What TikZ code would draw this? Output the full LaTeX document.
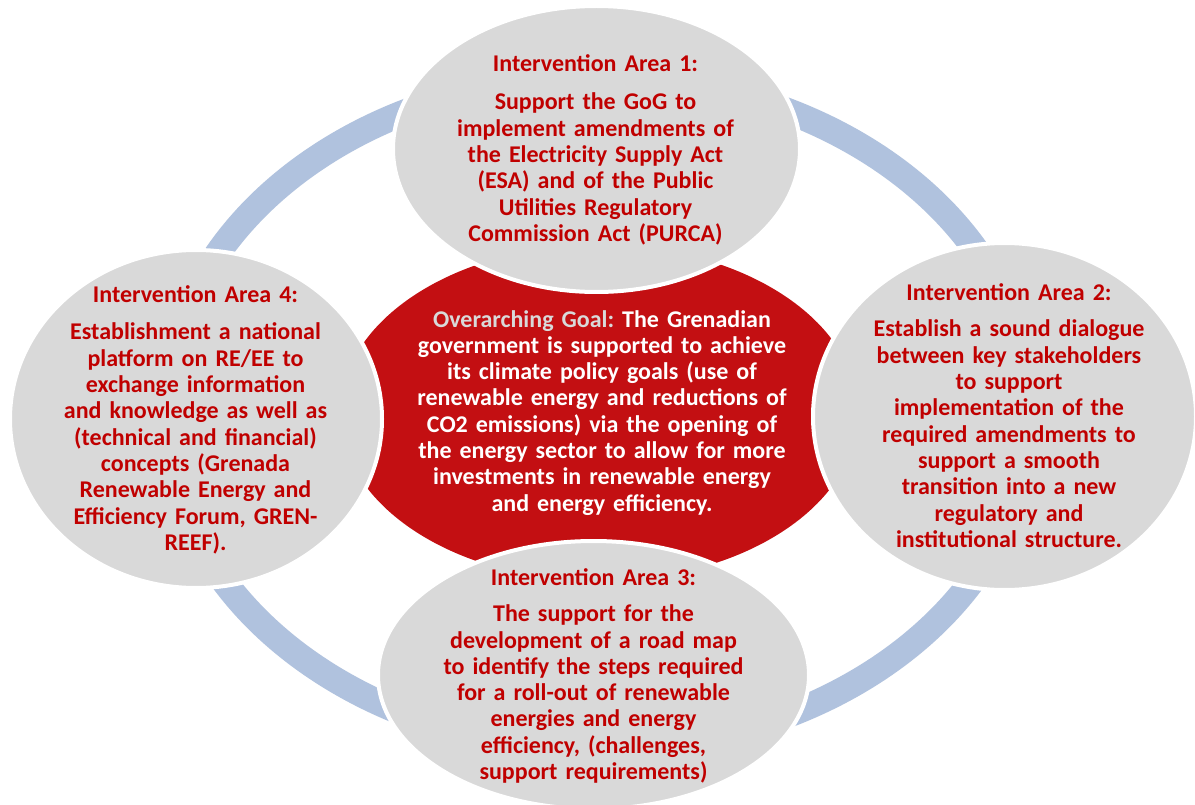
\documentclass[tikz,border=0pt]{standalone}
\usepackage{fontspec}
\setmainfont{Carlito}
\usetikzlibrary{shapes.geometric}
\definecolor{ringblue}{RGB}{176,194,222}
\definecolor{goalred}{RGB}{195,15,18}
\definecolor{areagrey}{RGB}{217,217,217}
\definecolor{textred}{RGB}{192,0,0}
\frenchspacing
\begin{document}
\begin{tikzpicture}[x=1pt,y=-1pt,
  areaell/.style={ellipse, fill=areagrey, draw=white, line width=4pt, inner sep=0pt},
  areatext/.style={text=textred, font=\bfseries\fontsize{24}{26.3}\selectfont\frenchspacing,
    text width=440pt, align=center, anchor=base, inner sep=0pt}]
\useasboundingbox (0,0) rectangle (1195,805);
\fill[white] (0,0) rectangle (1195,805);
% ring
\node[ellipse, draw=ringblue, line width=26pt, inner sep=0pt,
  minimum width=864pt, minimum height=672pt] (ring) at (598,413) {};
% goal shape
\node[ellipse, fill=goalred, inner sep=0pt,
  minimum width=518pt, minimum height=336pt] (goal) at (599,413) {};
% area ellipses
\node[areaell, minimum width=407pt, minimum height=286pt] (area1) at (596.5,149) {};
\node[areaell, minimum width=383pt, minimum height=347pt] (area2) at (1004.5,416.5) {};
\node[areaell, minimum width=431pt, minimum height=268pt] (area3) at (593.5,675) {};
\node[areaell, minimum width=372pt, minimum height=338pt] (area4) at (196,419) {};
% texts
\node[areatext] (t1) at (595.5,72) {Intervention Area 1:\\[11.7pt]Support the GoG to\\implement amendments of\\the Electricity Supply Act\\(ESA) and of the Public\\Utilities Regulatory\\Commission Act (PURCA)};
\node[areatext] (t2) at (1009,300.5) {Intervention Area 2:\\[10.2pt]Establish a sound dialogue\\between key stakeholders\\to support\\implementation of the\\required amendments to\\support a smooth\\transition into a new\\regulatory and\\institutional structure.};
\node[areatext] (t3) at (593.5,585) {Intervention Area 3:\\[10.4pt]The support for the\\development of a road map\\to identify the steps required\\for a roll-out of renewable\\energies and energy\\efficiency, (challenges,\\support requirements)};
\node[areatext] (t4) at (195.5,303) {Intervention Area 4:\\[10.7pt]Establishment a national\\platform on RE/EE to\\exchange information\\and knowledge as well as\\(technical and financial)\\concepts (Grenada\\Renewable Energy and\\Efficiency Forum, GREN-\\REEF).};
\node[areatext, text=white] (tg) at (602,327) {\textcolor{areagrey}{Overarching Goal:} The Grenadian\\government is supported to achieve\\its climate policy goals (use of\\renewable energy and reductions of\\CO2 emissions) via the opening of\\the energy sector to allow for more\\investments in renewable energy\\and energy efficiency.};
\end{tikzpicture}
\end{document}
